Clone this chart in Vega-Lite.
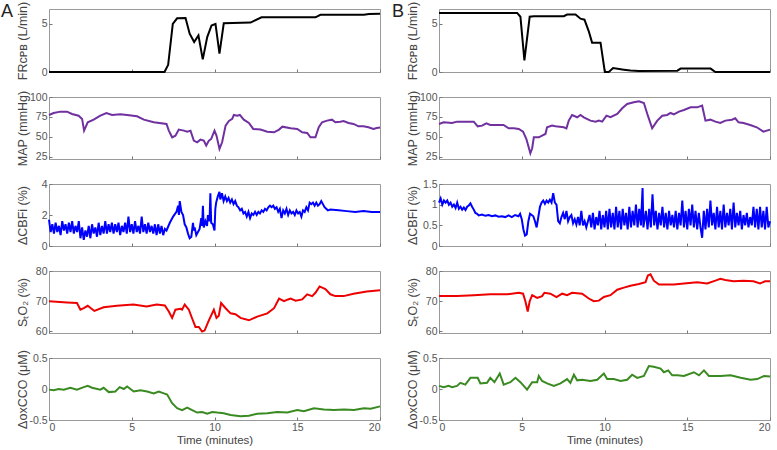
{
"$schema":"https://vega.github.io/schema/vega-lite/v6.json",
"padding":{"left":1,"top":0,"right":6,"bottom":2},
"spacing":7,
"config":{"font":"Liberation Sans","view":{"stroke":"#9a9a9a","strokeWidth":1},
"axis":{"grid":false,"domain":false,"tickColor":"#777","tickSize":-3,"labelColor":"#555","labelFontSize":10.5,"titleColor":"#444","titleFontSize":12.5,"titleFontWeight":"normal","labelPadding":5,"labelExpr":"toString(datum.value)"},
"axisY":{"titleX":-27,"titleBaseline":"middle"},
"title":{"fontSize":18,"fontWeight":"normal","color":"#222","anchor":"start","frame":"group","baseline":"alphabetic"}},
"datasets":{
"A_FR":[{"t":0,"v":0},{"t":6.98,"v":0},{"t":7.2,"v":0.74},{"t":7.48,"v":4.97},{"t":7.74,"v":5.54},{"t":8.25,"v":5.57},{"t":8.5,"v":3.95},{"t":8.77,"v":3.1},{"t":9.03,"v":3.78},{"t":9.29,"v":1.3},{"t":9.56,"v":3.6},{"t":9.82,"v":4.8},{"t":10.06,"v":4.97},{"t":10.3,"v":1.9},{"t":10.56,"v":5.03},{"t":12.18,"v":5.1},{"t":12.84,"v":5.64},{"t":16.1,"v":5.64},{"t":16.4,"v":5.9},{"t":19.03,"v":5.9},{"t":19.33,"v":5.98},{"t":20,"v":6.0}],
"B_FR":[{"t":0,"v":6.1},{"t":4.72,"v":6.1},{"t":4.92,"v":5.7},{"t":5.16,"v":1.2},{"t":5.48,"v":5.7},{"t":5.73,"v":5.76},{"t":7.54,"v":5.76},{"t":7.74,"v":5.93},{"t":8.25,"v":5.93},{"t":8.55,"v":5.5},{"t":8.79,"v":5.4},{"t":9.05,"v":4.2},{"t":9.25,"v":3.03},{"t":9.76,"v":3.03},{"t":10.02,"v":0},{"t":10.26,"v":0},{"t":10.52,"v":0.4},{"t":11.17,"v":0.24},{"t":11.57,"v":0.15},{"t":12.08,"v":0.1},{"t":14.4,"v":0.14},{"t":14.6,"v":0.35},{"t":16.41,"v":0.35},{"t":16.7,"v":0},{"t":20,"v":0}],
"A_MAP":[{"t":0,"v":77.4},{"t":0.28,"v":79.9},{"t":0.69,"v":81.6},{"t":1.09,"v":81.6},{"t":1.39,"v":78.6},{"t":1.79,"v":76.5},{"t":2.0,"v":72.4},{"t":2.12,"v":57.7},{"t":2.34,"v":68.2},{"t":2.7,"v":71.5},{"t":3.1,"v":76.5},{"t":3.47,"v":79.9},{"t":3.81,"v":77.4},{"t":4.31,"v":78.2},{"t":4.72,"v":77.4},{"t":5.32,"v":75.7},{"t":5.73,"v":71.5},{"t":6.33,"v":68.2},{"t":7.1,"v":66.1},{"t":7.24,"v":57.7},{"t":7.44,"v":49.3},{"t":7.64,"v":51.4},{"t":7.84,"v":59},{"t":8.15,"v":57.7},{"t":8.35,"v":56.4},{"t":8.55,"v":57.7},{"t":8.75,"v":45.1},{"t":8.95,"v":43},{"t":9.15,"v":46.4},{"t":9.35,"v":45.1},{"t":9.5,"v":38.9},{"t":9.66,"v":45.1},{"t":9.8,"v":47.2},{"t":10.0,"v":57.7},{"t":10.12,"v":51.4},{"t":10.3,"v":34.7},{"t":10.46,"v":43},{"t":10.67,"v":64},{"t":10.87,"v":69.8},{"t":11.07,"v":72.4},{"t":11.17,"v":77.4},{"t":11.37,"v":76.5},{"t":11.53,"v":77.4},{"t":11.77,"v":71.5},{"t":12.08,"v":67.3},{"t":12.34,"v":59.8},{"t":12.78,"v":59},{"t":13.19,"v":56.4},{"t":13.6,"v":55.6},{"t":13.9,"v":59},{"t":14.1,"v":62.7},{"t":14.6,"v":60.6},{"t":15.0,"v":59.8},{"t":15.3,"v":55.6},{"t":15.6,"v":54.8},{"t":15.8,"v":49.3},{"t":16.1,"v":49.3},{"t":16.3,"v":61.9},{"t":16.5,"v":68.2},{"t":16.8,"v":70.3},{"t":17.1,"v":71.5},{"t":17.3,"v":68.2},{"t":17.6,"v":69},{"t":17.8,"v":69.8},{"t":18.1,"v":67.3},{"t":18.4,"v":66.1},{"t":18.7,"v":63.1},{"t":19.0,"v":63.1},{"t":19.3,"v":61.9},{"t":19.6,"v":59.8},{"t":19.8,"v":61},{"t":20,"v":61.5}],
"B_MAP":[{"t":0,"v":66.1},{"t":0.28,"v":68.2},{"t":0.79,"v":67.3},{"t":1.09,"v":69},{"t":1.39,"v":69},{"t":2.1,"v":69},{"t":2.34,"v":63.1},{"t":2.6,"v":64},{"t":2.86,"v":66.9},{"t":3.1,"v":64.8},{"t":3.5,"v":64.8},{"t":3.9,"v":64.8},{"t":4.21,"v":60.6},{"t":4.52,"v":60.6},{"t":4.82,"v":59.8},{"t":5.08,"v":56.4},{"t":5.28,"v":47.2},{"t":5.52,"v":29.2},{"t":5.63,"v":35.5},{"t":5.73,"v":49.3},{"t":6.03,"v":49.3},{"t":6.23,"v":51.4},{"t":6.43,"v":53.5},{"t":6.53,"v":61.9},{"t":6.83,"v":64},{"t":7.04,"v":63.1},{"t":7.54,"v":61.9},{"t":7.7,"v":60.6},{"t":7.84,"v":70.3},{"t":8.04,"v":77.4},{"t":8.35,"v":74.5},{"t":8.55,"v":77.4},{"t":8.75,"v":74.5},{"t":9.15,"v":70.3},{"t":9.46,"v":69},{"t":9.66,"v":70.3},{"t":9.86,"v":69},{"t":10.12,"v":76.5},{"t":10.36,"v":74.5},{"t":10.77,"v":78.6},{"t":11.07,"v":85.8},{"t":11.37,"v":91.2},{"t":11.77,"v":93.3},{"t":12.08,"v":94.6},{"t":12.38,"v":92.5},{"t":12.62,"v":76.5},{"t":12.88,"v":60.6},{"t":13.19,"v":70.3},{"t":13.49,"v":76.5},{"t":13.79,"v":77.4},{"t":13.99,"v":79.9},{"t":14.19,"v":78.2},{"t":14.5,"v":81.6},{"t":14.8,"v":83.7},{"t":15.2,"v":87},{"t":15.6,"v":87},{"t":15.9,"v":89.1},{"t":16.1,"v":70.3},{"t":16.4,"v":71.5},{"t":16.7,"v":69},{"t":17.0,"v":67.3},{"t":17.3,"v":70.3},{"t":17.7,"v":71.5},{"t":17.9,"v":73.2},{"t":18.1,"v":68.2},{"t":18.4,"v":67.3},{"t":18.8,"v":64.8},{"t":19.2,"v":61.9},{"t":19.6,"v":56.4},{"t":20,"v":59}],
"A_CBF":[{"t":0.0,"v":1.7},{"t":0.1,"v":0.9},{"t":0.2,"v":1.4},{"t":0.3,"v":0.8},{"t":0.4,"v":1.5},{"t":0.5,"v":0.9},{"t":0.6,"v":1.3},{"t":0.7,"v":0.7},{"t":0.8,"v":1.6},{"t":0.9,"v":1.0},{"t":1.0,"v":1.4},{"t":1.1,"v":0.8},{"t":1.2,"v":1.5},{"t":1.3,"v":0.9},{"t":1.4,"v":1.6},{"t":1.5,"v":0.8},{"t":1.6,"v":1.3},{"t":1.7,"v":0.9},{"t":1.8,"v":1.6},{"t":1.9,"v":0.5},{"t":2.0,"v":1.2},{"t":2.1,"v":0.4},{"t":2.2,"v":1.0},{"t":2.3,"v":0.6},{"t":2.4,"v":1.3},{"t":2.5,"v":0.5},{"t":2.6,"v":1.4},{"t":2.7,"v":0.8},{"t":2.8,"v":1.2},{"t":2.9,"v":0.6},{"t":3.0,"v":1.5},{"t":3.1,"v":0.7},{"t":3.2,"v":1.3},{"t":3.3,"v":0.8},{"t":3.4,"v":1.6},{"t":3.5,"v":0.8},{"t":3.6,"v":1.4},{"t":3.7,"v":0.9},{"t":3.8,"v":1.5},{"t":3.9,"v":0.8},{"t":4.0,"v":1.4},{"t":4.1,"v":0.9},{"t":4.2,"v":1.5},{"t":4.3,"v":0.7},{"t":4.4,"v":1.3},{"t":4.5,"v":0.9},{"t":4.6,"v":1.5},{"t":4.7,"v":0.8},{"t":4.8,"v":1.9},{"t":4.9,"v":0.9},{"t":5.0,"v":1.4},{"t":5.1,"v":0.8},{"t":5.2,"v":1.6},{"t":5.3,"v":0.9},{"t":5.4,"v":1.3},{"t":5.5,"v":0.8},{"t":5.6,"v":1.9},{"t":5.7,"v":0.9},{"t":5.8,"v":1.4},{"t":5.9,"v":0.8},{"t":6.0,"v":1.5},{"t":6.1,"v":0.9},{"t":6.2,"v":1.3},{"t":6.3,"v":0.8},{"t":6.4,"v":1.4},{"t":6.5,"v":0.7},{"t":6.6,"v":1.4},{"t":6.7,"v":0.8},{"t":6.8,"v":1.3},{"t":6.9,"v":0.7},{"t":7.0,"v":1.1},{"t":7.1,"v":1.0},{"t":7.3,"v":1.5},{"t":7.5,"v":1.9},{"t":7.7,"v":2.2},{"t":7.8,"v":2.6},{"t":7.85,"v":2.0},{"t":7.9,"v":2.9},{"t":8.0,"v":2.2},{"t":8.1,"v":2.0},{"t":8.2,"v":1.4},{"t":8.3,"v":1.2},{"t":8.4,"v":0.8},{"t":8.5,"v":0.5},{"t":8.6,"v":0.6},{"t":8.7,"v":1.5},{"t":8.75,"v":1.0},{"t":8.8,"v":1.2},{"t":8.9,"v":0.7},{"t":9.0,"v":0.9},{"t":9.1,"v":1.1},{"t":9.2,"v":1.8},{"t":9.25,"v":1.3},{"t":9.3,"v":2.6},{"t":9.35,"v":1.2},{"t":9.45,"v":1.6},{"t":9.55,"v":1.3},{"t":9.6,"v":2.0},{"t":9.7,"v":1.6},{"t":9.75,"v":3.4},{"t":9.8,"v":1.5},{"t":9.9,"v":1.4},{"t":10.0,"v":1.0},{"t":10.05,"v":2.4},{"t":10.1,"v":2.8},{"t":10.2,"v":3.2},{"t":10.3,"v":3.5},{"t":10.35,"v":3.0},{"t":10.45,"v":3.4},{"t":10.55,"v":2.9},{"t":10.65,"v":3.2},{"t":10.75,"v":2.9},{"t":10.85,"v":3.1},{"t":10.95,"v":2.8},{"t":11.05,"v":3.0},{"t":11.15,"v":2.7},{"t":11.25,"v":2.9},{"t":11.35,"v":2.6},{"t":11.45,"v":2.5},{"t":11.55,"v":2.3},{"t":11.65,"v":2.4},{"t":11.75,"v":2.1},{"t":11.85,"v":2.2},{"t":11.95,"v":1.9},{"t":12.05,"v":2.2},{"t":12.15,"v":1.8},{"t":12.25,"v":2.1},{"t":12.35,"v":2.0},{"t":12.45,"v":2.2},{"t":12.55,"v":2.0},{"t":12.65,"v":2.2},{"t":12.75,"v":2.1},{"t":12.85,"v":2.3},{"t":12.95,"v":2.2},{"t":13.05,"v":2.4},{"t":13.15,"v":2.3},{"t":13.25,"v":2.5},{"t":13.35,"v":2.6},{"t":13.45,"v":2.5},{"t":13.55,"v":2.6},{"t":13.65,"v":2.4},{"t":13.75,"v":2.5},{"t":13.85,"v":2.2},{"t":13.95,"v":2.4},{"t":14.05,"v":1.8},{"t":14.15,"v":2.3},{"t":14.25,"v":2.1},{"t":14.35,"v":2.4},{"t":14.45,"v":2.0},{"t":14.55,"v":2.3},{"t":14.65,"v":2.1},{"t":14.75,"v":2.2},{"t":14.85,"v":2.0},{"t":14.95,"v":2.3},{"t":15.05,"v":2.1},{"t":15.15,"v":2.2},{"t":15.25,"v":1.9},{"t":15.35,"v":2.3},{"t":15.45,"v":2.2},{"t":15.55,"v":2.5},{"t":15.65,"v":2.3},{"t":15.75,"v":2.8},{"t":15.85,"v":2.7},{"t":15.95,"v":2.8},{"t":16.05,"v":2.6},{"t":16.15,"v":2.8},{"t":16.25,"v":2.6},{"t":16.35,"v":2.7},{"t":16.45,"v":2.9},{"t":16.55,"v":2.7},{"t":16.65,"v":2.5},{"t":16.75,"v":2.4},{"t":16.85,"v":2.3},{"t":17.0,"v":2.35},{"t":17.5,"v":2.3},{"t":18.0,"v":2.25},{"t":18.5,"v":2.2},{"t":19.0,"v":2.25},{"t":19.5,"v":2.2},{"t":20.0,"v":2.2}],
"B_CBF":[{"t":0.0,"v":1.05},{"t":0.1,"v":1.15},{"t":0.2,"v":1.0},{"t":0.3,"v":1.1},{"t":0.4,"v":1.05},{"t":0.5,"v":1.1},{"t":0.6,"v":1.0},{"t":0.7,"v":1.05},{"t":0.8,"v":0.95},{"t":0.9,"v":1.0},{"t":1.0,"v":0.92},{"t":1.1,"v":1.05},{"t":1.2,"v":0.9},{"t":1.3,"v":0.95},{"t":1.4,"v":0.88},{"t":1.5,"v":0.93},{"t":1.6,"v":0.87},{"t":1.7,"v":0.95},{"t":1.8,"v":0.98},{"t":1.9,"v":1.03},{"t":2.0,"v":0.95},{"t":2.1,"v":0.88},{"t":2.2,"v":0.8},{"t":2.3,"v":0.78},{"t":2.4,"v":0.74},{"t":2.6,"v":0.76},{"t":2.8,"v":0.73},{"t":3.0,"v":0.75},{"t":3.2,"v":0.72},{"t":3.4,"v":0.74},{"t":3.6,"v":0.71},{"t":3.8,"v":0.72},{"t":4.0,"v":0.7},{"t":4.2,"v":0.74},{"t":4.4,"v":0.7},{"t":4.6,"v":0.75},{"t":4.8,"v":0.72},{"t":4.9,"v":0.78},{"t":5.0,"v":0.65},{"t":5.1,"v":0.4},{"t":5.2,"v":0.25},{"t":5.3,"v":0.28},{"t":5.4,"v":0.6},{"t":5.5,"v":0.78},{"t":5.6,"v":0.75},{"t":5.7,"v":0.72},{"t":5.8,"v":0.6},{"t":5.9,"v":0.45},{"t":6.0,"v":0.7},{"t":6.1,"v":0.95},{"t":6.2,"v":1.05},{"t":6.3,"v":1.1},{"t":6.4,"v":1.02},{"t":6.5,"v":1.1},{"t":6.6,"v":1.05},{"t":6.7,"v":1.12},{"t":6.8,"v":1.05},{"t":6.9,"v":1.28},{"t":7.0,"v":1.05},{"t":7.1,"v":1.0},{"t":7.2,"v":0.6},{"t":7.3,"v":0.55},{"t":7.4,"v":0.7},{"t":7.5,"v":0.8},{"t":7.6,"v":0.65},{"t":7.7,"v":0.85},{"t":7.8,"v":0.6},{"t":7.9,"v":0.7},{"t":8.0,"v":0.75},{"t":8.1,"v":0.55},{"t":8.2,"v":0.65},{"t":8.3,"v":0.52},{"t":8.4,"v":0.7},{"t":8.5,"v":0.5},{"t":8.6,"v":0.85},{"t":8.7,"v":0.5},{"t":8.8,"v":0.6},{"t":8.9,"v":0.45},{"t":9.0,"v":0.6},{"t":9.1,"v":0.75},{"t":9.2,"v":0.45},{"t":9.3,"v":0.8},{"t":9.4,"v":0.4},{"t":9.5,"v":0.7},{"t":9.6,"v":0.5},{"t":9.7,"v":0.85},{"t":9.8,"v":0.4},{"t":9.9,"v":0.75},{"t":10.0,"v":0.45},{"t":10.1,"v":0.85},{"t":10.2,"v":0.4},{"t":10.3,"v":0.9},{"t":10.4,"v":0.45},{"t":10.5,"v":0.8},{"t":10.6,"v":0.4},{"t":10.7,"v":0.95},{"t":10.8,"v":0.45},{"t":10.9,"v":0.85},{"t":11.0,"v":0.4},{"t":11.1,"v":0.9},{"t":11.2,"v":0.5},{"t":11.3,"v":0.8},{"t":11.4,"v":0.4},{"t":11.5,"v":0.95},{"t":11.6,"v":0.45},{"t":11.7,"v":0.85},{"t":11.8,"v":0.5},{"t":11.9,"v":1.0},{"t":12.0,"v":0.45},{"t":12.1,"v":0.9},{"t":12.2,"v":0.5},{"t":12.3,"v":1.4},{"t":12.35,"v":0.45},{"t":12.5,"v":0.85},{"t":12.6,"v":0.4},{"t":12.7,"v":0.9},{"t":12.8,"v":0.45},{"t":12.9,"v":1.25},{"t":13.0,"v":0.5},{"t":13.1,"v":0.85},{"t":13.2,"v":0.4},{"t":13.3,"v":0.8},{"t":13.4,"v":0.5},{"t":13.5,"v":0.95},{"t":13.6,"v":0.45},{"t":13.7,"v":0.8},{"t":13.8,"v":0.4},{"t":13.9,"v":0.85},{"t":14.0,"v":0.5},{"t":14.1,"v":0.75},{"t":14.2,"v":0.45},{"t":14.3,"v":0.85},{"t":14.4,"v":0.4},{"t":14.5,"v":0.8},{"t":14.6,"v":0.5},{"t":14.7,"v":1.1},{"t":14.8,"v":0.45},{"t":14.9,"v":0.85},{"t":15.0,"v":0.4},{"t":15.1,"v":0.9},{"t":15.2,"v":0.5},{"t":15.3,"v":1.0},{"t":15.4,"v":0.45},{"t":15.5,"v":0.85},{"t":15.6,"v":0.4},{"t":15.7,"v":0.8},{"t":15.8,"v":0.45},{"t":15.9,"v":0.2},{"t":16.0,"v":0.85},{"t":16.1,"v":0.4},{"t":16.2,"v":0.9},{"t":16.3,"v":0.45},{"t":16.4,"v":1.1},{"t":16.5,"v":0.5},{"t":16.6,"v":0.8},{"t":16.7,"v":0.4},{"t":16.8,"v":0.95},{"t":16.9,"v":0.45},{"t":17.0,"v":0.85},{"t":17.1,"v":0.4},{"t":17.2,"v":1.0},{"t":17.3,"v":0.45},{"t":17.4,"v":0.8},{"t":17.5,"v":0.5},{"t":17.6,"v":0.9},{"t":17.7,"v":0.4},{"t":17.8,"v":1.05},{"t":17.9,"v":0.45},{"t":18.0,"v":0.8},{"t":18.1,"v":0.5},{"t":18.2,"v":0.85},{"t":18.3,"v":0.4},{"t":18.4,"v":0.75},{"t":18.5,"v":0.5},{"t":18.6,"v":0.8},{"t":18.7,"v":0.45},{"t":18.8,"v":0.7},{"t":18.9,"v":0.5},{"t":19.0,"v":0.95},{"t":19.1,"v":0.45},{"t":19.2,"v":0.9},{"t":19.3,"v":0.4},{"t":19.4,"v":0.95},{"t":19.5,"v":0.45},{"t":19.6,"v":0.85},{"t":19.7,"v":0.4},{"t":19.8,"v":0.95},{"t":19.9,"v":0.45},{"t":20.0,"v":0.6}],
"A_ST":[{"t":0,"v":70},{"t":1.09,"v":69.6},{"t":1.69,"v":69.4},{"t":1.9,"v":67.2},{"t":2.1,"v":67.7},{"t":2.34,"v":68.5},{"t":2.74,"v":66.8},{"t":3.3,"v":68},{"t":4.1,"v":68.5},{"t":5.1,"v":68.9},{"t":5.9,"v":68.3},{"t":6.5,"v":68.9},{"t":7.0,"v":68.6},{"t":7.24,"v":66.6},{"t":7.44,"v":64.5},{"t":7.64,"v":67.2},{"t":7.94,"v":67.5},{"t":8.04,"v":67.2},{"t":8.2,"v":68.9},{"t":8.45,"v":67.2},{"t":8.65,"v":64.3},{"t":8.85,"v":61.5},{"t":9.05,"v":61.5},{"t":9.25,"v":60},{"t":9.4,"v":60.3},{"t":9.66,"v":63.7},{"t":9.96,"v":67.2},{"t":10.12,"v":64.5},{"t":10.26,"v":65.2},{"t":10.4,"v":69.4},{"t":10.67,"v":67.7},{"t":10.97,"v":66},{"t":11.27,"v":65.7},{"t":11.57,"v":64.5},{"t":12.08,"v":63.7},{"t":12.58,"v":64.9},{"t":13.19,"v":66},{"t":13.6,"v":67.7},{"t":13.9,"v":70.9},{"t":14.2,"v":70},{"t":14.44,"v":70.6},{"t":14.6,"v":70.9},{"t":14.9,"v":70.2},{"t":15.3,"v":70.6},{"t":15.6,"v":72.3},{"t":15.9,"v":71.7},{"t":16.1,"v":72.8},{"t":16.35,"v":74.9},{"t":16.7,"v":74},{"t":17.0,"v":72.3},{"t":17.3,"v":71.7},{"t":17.8,"v":71.7},{"t":18.4,"v":72.5},{"t":19.2,"v":73.2},{"t":20,"v":73.6}],
"B_ST":[{"t":0,"v":71.7},{"t":1.09,"v":71.7},{"t":2.1,"v":72},{"t":3.1,"v":72.3},{"t":4.1,"v":72.3},{"t":4.82,"v":72.8},{"t":5.08,"v":72.5},{"t":5.22,"v":70},{"t":5.36,"v":66.6},{"t":5.48,"v":70},{"t":5.63,"v":72},{"t":5.93,"v":71.1},{"t":6.23,"v":71.7},{"t":6.37,"v":72.8},{"t":6.73,"v":72.5},{"t":7.1,"v":71.4},{"t":7.44,"v":72.5},{"t":7.74,"v":72},{"t":8.04,"v":72.8},{"t":8.65,"v":72.5},{"t":9.05,"v":70.9},{"t":9.35,"v":70},{"t":9.66,"v":70.2},{"t":9.96,"v":71.4},{"t":10.36,"v":72},{"t":10.77,"v":73.8},{"t":11.17,"v":74.5},{"t":11.57,"v":75.1},{"t":12.08,"v":75.7},{"t":12.48,"v":76.3},{"t":12.62,"v":78.5},{"t":12.78,"v":78.9},{"t":12.98,"v":76.8},{"t":13.29,"v":75.5},{"t":13.6,"v":75.5},{"t":14.2,"v":75.5},{"t":14.8,"v":75.9},{"t":15.6,"v":76.3},{"t":16.2,"v":75.9},{"t":16.7,"v":76.8},{"t":17.0,"v":77.4},{"t":17.3,"v":77},{"t":17.8,"v":76.6},{"t":18.4,"v":76.8},{"t":19.0,"v":76.6},{"t":19.4,"v":75.9},{"t":19.7,"v":76.6},{"t":20,"v":76.6}],
"A_OX":[{"t":0,"v":-0.01},{"t":0.28,"v":-0.02},{"t":0.58,"v":0},{"t":0.89,"v":-0.01},{"t":1.29,"v":0.02},{"t":1.69,"v":-0.01},{"t":2.1,"v":0.03},{"t":2.34,"v":0.05},{"t":2.6,"v":0.02},{"t":3.1,"v":-0.01},{"t":3.3,"v":0.02},{"t":3.61,"v":-0.05},{"t":4.01,"v":-0.04},{"t":4.27,"v":0.03},{"t":4.52,"v":0},{"t":4.72,"v":0.04},{"t":5.12,"v":-0.04},{"t":5.53,"v":-0.02},{"t":5.93,"v":-0.04},{"t":6.33,"v":-0.07},{"t":6.63,"v":-0.04},{"t":6.94,"v":-0.07},{"t":7.14,"v":-0.09},{"t":7.44,"v":-0.23},{"t":7.74,"v":-0.31},{"t":8.04,"v":-0.34},{"t":8.35,"v":-0.3},{"t":8.65,"v":-0.34},{"t":8.95,"v":-0.38},{"t":9.25,"v":-0.37},{"t":9.56,"v":-0.4},{"t":9.86,"v":-0.37},{"t":10.16,"v":-0.38},{"t":10.56,"v":-0.39},{"t":10.97,"v":-0.42},{"t":11.57,"v":-0.44},{"t":12.08,"v":-0.43},{"t":12.58,"v":-0.4},{"t":13.19,"v":-0.39},{"t":13.79,"v":-0.37},{"t":14.4,"v":-0.38},{"t":15.0,"v":-0.34},{"t":15.4,"v":-0.36},{"t":16.01,"v":-0.31},{"t":16.61,"v":-0.33},{"t":17.22,"v":-0.34},{"t":17.82,"v":-0.33},{"t":18.43,"v":-0.34},{"t":19.03,"v":-0.31},{"t":19.44,"v":-0.32},{"t":20,"v":-0.28}],
"B_OX":[{"t":0,"v":0.05},{"t":0.28,"v":0.03},{"t":0.58,"v":0.05},{"t":0.79,"v":0.03},{"t":1.09,"v":0.05},{"t":1.29,"v":0.1},{"t":1.59,"v":0.07},{"t":1.9,"v":0.18},{"t":2.34,"v":0.18},{"t":2.5,"v":0.09},{"t":2.9,"v":0.1},{"t":3.1,"v":0.18},{"t":3.35,"v":0.11},{"t":3.67,"v":0.25},{"t":3.91,"v":0.07},{"t":4.31,"v":0.11},{"t":4.62,"v":0.18},{"t":4.92,"v":0.11},{"t":5.32,"v":-0.01},{"t":5.63,"v":0.11},{"t":5.93,"v":0.11},{"t":6.03,"v":0.21},{"t":6.23,"v":0.13},{"t":6.53,"v":0.09},{"t":6.94,"v":0.05},{"t":7.34,"v":0.09},{"t":7.74,"v":0.16},{"t":7.94,"v":0.1},{"t":8.15,"v":0.23},{"t":8.35,"v":0.14},{"t":8.65,"v":0.15},{"t":9.15,"v":0.13},{"t":9.56,"v":0.15},{"t":9.96,"v":0.25},{"t":10.16,"v":0.16},{"t":10.56,"v":0.16},{"t":10.97,"v":0.13},{"t":11.37,"v":0.15},{"t":11.67,"v":0.23},{"t":11.98,"v":0.18},{"t":12.38,"v":0.21},{"t":12.68,"v":0.37},{"t":12.98,"v":0.36},{"t":13.39,"v":0.33},{"t":13.59,"v":0.27},{"t":13.85,"v":0.3},{"t":14.09,"v":0.22},{"t":14.4,"v":0.22},{"t":14.8,"v":0.21},{"t":15.4,"v":0.27},{"t":15.71,"v":0.22},{"t":16.01,"v":0.3},{"t":16.31,"v":0.21},{"t":17.02,"v":0.21},{"t":17.62,"v":0.22},{"t":18.23,"v":0.18},{"t":18.83,"v":0.15},{"t":19.23,"v":0.16},{"t":19.64,"v":0.21},{"t":20,"v":0.2}]
},
"hconcat":[
{"title":{"text":"A","offset":-20,"dx":-48},"bounds":"flush","spacing":25,
"vconcat":[
{"data":{"name":"A_FR"},"width":331,"height":63,"mark":{"type":"line","color":"#000000","strokeWidth":2},"encoding":{"x":{"field":"t","type":"quantitative","scale":{"domain":[0,20]},"axis":{"values":[0,5,10,15,20],"labels":false,"title":null}},"y":{"field":"v","type":"quantitative","scale":{"domain":[0,6.5]},"axis":{"values":[0,5],"title":"FRᴄᴘʙ (L/min)"}}}},
{"data":{"name":"A_MAP"},"width":331,"height":62,"mark":{"type":"line","color":"#7030a0","strokeWidth":2},"encoding":{"x":{"field":"t","type":"quantitative","scale":{"domain":[0,20]},"axis":{"values":[0,5,10,15,20],"labels":false,"title":null}},"y":{"field":"v","type":"quantitative","scale":{"domain":[22,100]},"axis":{"values":[25,50,75,100],"title":"MAP (mmHg)"}}}},
{"data":{"name":"A_CBF"},"width":331,"height":62,"mark":{"type":"line","color":"#0000ff","strokeWidth":2},"encoding":{"x":{"field":"t","type":"quantitative","scale":{"domain":[0,20]},"axis":{"values":[0,5,10,15,20],"labels":false,"title":null}},"y":{"field":"v","type":"quantitative","scale":{"domain":[0,4]},"axis":{"values":[0,2,4],"title":"ΔCBFi (%)"}}}},
{"data":{"name":"A_ST"},"width":331,"height":62,"mark":{"type":"line","color":"#ee0000","strokeWidth":2},"encoding":{"x":{"field":"t","type":"quantitative","scale":{"domain":[0,20]},"axis":{"values":[0,5,10,15,20],"labels":false,"title":null}},"y":{"field":"v","type":"quantitative","scale":{"domain":[59.5,80]},"axis":{"values":[60,70,80],"title":"SₜO₂ (%)"}}}},
{"data":{"name":"A_OX"},"width":331,"height":62,"mark":{"type":"line","color":"#3a8a22","strokeWidth":2},"encoding":{"x":{"field":"t","type":"quantitative","scale":{"domain":[0,20]},"axis":{"values":[0,5,10,15,20],"title":"Time (minutes)","titlePadding":2,"titleFontSize":11.5}},"y":{"field":"v","type":"quantitative","scale":{"domain":[-0.5,0.5]},"axis":{"values":[-0.5,0,0.5],"title":"ΔoxCCO (μM)"}}}}
]},
{"title":{"text":"B","offset":-20,"dx":-47},"bounds":"flush","spacing":25,
"vconcat":[
{"data":{"name":"B_FR"},"width":331,"height":63,"mark":{"type":"line","color":"#000000","strokeWidth":2},"encoding":{"x":{"field":"t","type":"quantitative","scale":{"domain":[0,20]},"axis":{"values":[0,5,10,15,20],"labels":false,"title":null}},"y":{"field":"v","type":"quantitative","scale":{"domain":[0,6.5]},"axis":{"values":[0,5],"title":"FRᴄᴘʙ (L/min)"}}}},
{"data":{"name":"B_MAP"},"width":331,"height":62,"mark":{"type":"line","color":"#7030a0","strokeWidth":2},"encoding":{"x":{"field":"t","type":"quantitative","scale":{"domain":[0,20]},"axis":{"values":[0,5,10,15,20],"labels":false,"title":null}},"y":{"field":"v","type":"quantitative","scale":{"domain":[22,100]},"axis":{"values":[25,50,75,100],"title":"MAP (mmHg)"}}}},
{"data":{"name":"B_CBF"},"width":331,"height":62,"mark":{"type":"line","color":"#0000ff","strokeWidth":2},"encoding":{"x":{"field":"t","type":"quantitative","scale":{"domain":[0,20]},"axis":{"values":[0,5,10,15,20],"labels":false,"title":null}},"y":{"field":"v","type":"quantitative","scale":{"domain":[0,1.5]},"axis":{"values":[0,0.5,1,1.5],"title":"ΔCBFi (%)"}}}},
{"data":{"name":"B_ST"},"width":331,"height":62,"mark":{"type":"line","color":"#ee0000","strokeWidth":2},"encoding":{"x":{"field":"t","type":"quantitative","scale":{"domain":[0,20]},"axis":{"values":[0,5,10,15,20],"labels":false,"title":null}},"y":{"field":"v","type":"quantitative","scale":{"domain":[59.5,80]},"axis":{"values":[60,70,80],"title":"SₜO₂ (%)"}}}},
{"data":{"name":"B_OX"},"width":331,"height":62,"mark":{"type":"line","color":"#3a8a22","strokeWidth":2},"encoding":{"x":{"field":"t","type":"quantitative","scale":{"domain":[0,20]},"axis":{"values":[0,5,10,15,20],"title":"Time (minutes)","titlePadding":2,"titleFontSize":11.5}},"y":{"field":"v","type":"quantitative","scale":{"domain":[-0.5,0.5]},"axis":{"values":[-0.5,0,0.5],"title":"ΔoxCCO (μM)"}}}}
]}
]
}
